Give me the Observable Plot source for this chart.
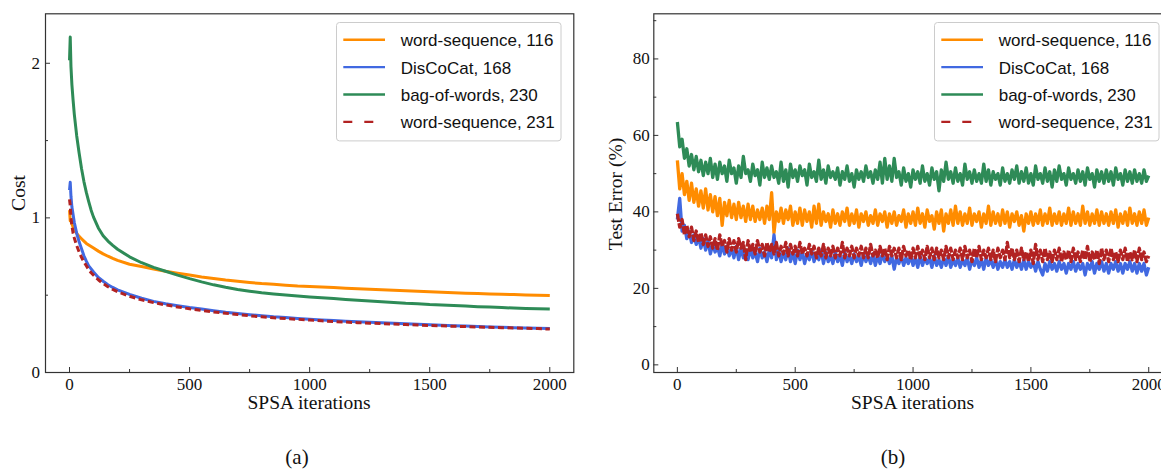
<!DOCTYPE html>
<html><head><meta charset="utf-8">
<script src="https://cdn.jsdelivr.net/npm/d3@7"></script>
<script src="https://cdn.jsdelivr.net/npm/@observablehq/plot@0.6"></script>
<style>
body{margin:0;background:#fff;overflow:hidden;}
#fig{position:relative;width:1161px;height:470px;overflow:hidden;background:#fff;}
.panel{position:absolute;top:0;}
.leg{position:absolute;}
.cap{position:absolute;width:100px;text-align:center;font-family:"Liberation Serif",serif;font-size:21px;line-height:21px;color:#111;}
</style></head><body><div id="fig"></div>
<script>
// ---- series meta ----
const seriesNames = ["word-sequence, 116", "DisCoCat, 168", "bag-of-words, 230", "word-sequence, 231"];
const seriesColors = ["#ff8c00", "#4169e1", "#2e8b57", "#b22222"];

// ---- ticks ----
const iterTicks = [0, 500, 1000, 1500, 2000];
const iterMinor = [250, 750, 1250, 1750];
const costTicks = [0, 1, 2];
const costMinor = [0.5, 1.5];
const errTicks = [0, 20, 40, 60, 80];
const errMinor = [10, 30, 50, 70, 90];

// ---- panel (a): cost ----
const costIter = [0,3,6,10,15,20,30,40,50,60,70,80,90,100,120,140,160,180,200,
  250,300,350,400,450,500,550,600,650,700,750,800,850,900,950,1000,1050,1100,1150,1200,1250,
  1300,1350,1400,1450,1500,1550,1600,1650,1700,1750,1800,1850,1900,1950,2000];
const costWordSeq116 = [1.05,0.98,0.99,0.96,0.94,0.925,0.90,0.88,0.865,0.85,0.835,0.825,0.815,0.805,0.785,0.767,0.752,0.738,0.725,
  0.70,0.685,0.67,0.655,0.642,0.63,0.618,0.608,0.598,0.59,0.582,0.575,0.57,0.565,0.56,0.557,0.553,0.549,0.545,0.541,0.538,
  0.535,0.532,0.528,0.525,0.522,0.519,0.516,0.513,0.511,0.508,0.506,0.504,0.502,0.50,0.498];
const costDisCoCat168 = [1.18,1.23,1.14,1.07,1.02,0.97,0.90,0.845,0.80,0.755,0.72,0.69,0.67,0.65,0.615,0.59,0.568,0.55,0.535,
  0.505,0.48,0.46,0.445,0.432,0.42,0.41,0.40,0.39,0.382,0.374,0.367,0.36,0.355,0.35,0.345,0.34,0.336,0.332,0.328,0.325,
  0.321,0.318,0.315,0.312,0.309,0.306,0.303,0.30,0.298,0.295,0.293,0.29,0.288,0.286,0.284];
const costBagOfWords230 = [2.02,2.17,1.98,1.86,1.76,1.67,1.53,1.42,1.32,1.235,1.165,1.105,1.05,1.005,0.935,0.885,0.85,0.822,0.797,
  0.748,0.71,0.68,0.655,0.63,0.607,0.586,0.567,0.551,0.537,0.526,0.516,0.508,0.501,0.495,0.489,0.483,0.478,0.472,0.467,0.463,
  0.458,0.453,0.448,0.445,0.44,0.437,0.433,0.43,0.426,0.423,0.42,0.417,0.414,0.412,0.41];
const costWordSeq231 = [1.12,1.08,1.0,0.95,0.90,0.87,0.82,0.78,0.745,0.715,0.69,0.665,0.645,0.63,0.60,0.575,0.555,0.537,0.522,
  0.493,0.47,0.452,0.437,0.424,0.412,0.402,0.392,0.383,0.375,0.367,0.36,0.354,0.349,0.344,0.339,0.334,0.33,0.326,0.322,0.319,
  0.316,0.313,0.31,0.307,0.304,0.302,0.299,0.297,0.294,0.292,0.29,0.288,0.286,0.284,0.281];

// ---- panel (b): test error, sampled every 10 iterations (0..2000) ----
const errStep = 10;
const errWordSeq116 = [
53.5,46,50,44.5,48,43,47.5,42.5,46,41.5,
45.5,41,46,40.5,44.5,40,44,39,43.5,36.5,
42.5,39,43,38.5,42,38,42.5,38.5,41.5,37.5,
42,38,41.5,37.5,40.5,38,41,37,41.5,38,
45,34.5,40,37.5,41,37,40.5,38,41.5,36.5,
40,37,41,36.5,40.5,37.5,40,36,41.5,37,
42,36.5,40,37.5,39.5,36,40.5,37,39.5,36.5,
40,37.5,41,36.5,39.5,37,40.5,36,39.5,37.5,
40,36.5,39,37,40.5,36.5,39.5,37.5,40,36,
39.5,37,40,36.5,39,37.5,40.5,36,39.5,37,
40,36.5,41,37,39.5,36,40.5,37.5,39,35.5,
40,37,40.5,35,39.5,37,40.5,36.5,41.5,37,
40,36.5,39.5,37,41,36.5,39.5,37.5,40,36,
39.5,37,41.5,36.5,40,37,39.5,36.5,40.5,37,
40,36,39.5,37.5,40,36.5,39,35,39.5,37,
40,36.5,39.5,37,40.5,36.5,39.5,37,41,36.5,
39.5,37,40,36.5,39.5,37,41,36.5,40,37,
39.5,36.5,41.5,37,40,36.5,39.5,37,40.5,36.5,
40,37,39.5,36.5,40,37,40.5,36,39.5,37,
40,36.5,41,37,39.5,36.5,40,37,40.5,36.5,
38.5];
const errDisCoCat168 = [
38,43.5,35,36.5,33,35,32,34,31.5,33.5,
30.5,33,30,32.5,29,31.5,29.5,31,28.5,31.5,
29,31,28.5,30.5,28,31,27.5,30.5,28,30,
27.5,30.5,28,29.5,27,30.5,28,29.5,27,30,
28,34,27.5,30,27,29.5,27.5,30.5,27,29.5,
26.5,30,27.5,29.5,26.5,29,27.5,30,27,29,
27.5,30,26.5,29.5,27,28.5,26.5,29.5,27,28.5,
26,29.5,27,28.5,26.5,29,27,28.5,26,29,
27,28.5,26.5,29,26,28.5,26.5,29,27,28.5,
26.5,28.5,25,28,26.5,28.5,26,28,26.5,28.5,
26,28,25.5,28.5,26,28,26.5,28,25.5,28.5,
26,27.5,25.5,28,26,28.5,25.5,27.5,26,28,
25.5,27.5,26,28,25,27.5,26,28,25.5,27.5,
25,28,26,27.5,25.5,27.5,25,27,25.5,27.5,
25.5,27,25,27.5,25.5,27,25,27.5,25,27,
25.5,27,24.5,27,25,23.5,26.5,24.5,27,25,
26.5,24.5,27,25,26.5,24,26.5,25,27,24.5,
26.5,25,26.5,23.5,26.5,25,27,24,26.5,25,
27,24.5,26.5,24,26.5,25,27,24.5,26.5,24,
26.5,25,27,24.5,26.5,24,26.5,24.5,26.5,23.5,
25.5];
const errBagOfWords230 = [
63.5,57,59,54,56.5,52,55,51,54.5,50.5,
53.5,49.5,53,50,54,49,52.5,48.5,53,50,
52,48,53.5,50,51.5,47.5,52,49,54.5,50,
51,48,52.5,49.5,51,47,53,49,51.5,48.5,
52,49,50.5,47.5,53,48,51,46.5,52.5,49,
51,48,52,49.5,51,47,52.5,49,50.5,48,
53.5,48.5,51,47.5,52,49,50.5,48.5,51.5,47,
50.5,48.5,52,48,50,46.5,51,48.5,50.5,48,
52,49,50.5,47.5,51,48.5,53,47.5,54,48.5,
52,48,54,49,50.5,47,51.5,48,50,46.5,
51,48.5,50.5,47.5,52,48,50,47,51.5,48.5,
50.5,45.5,51,48,53,48.5,50.5,47.5,51.5,48,
50,47,52.5,48.5,50.5,47.5,51,48,50,47.5,
52.5,48,51,47,50.5,48.5,50,47,51.5,48,
50,47.5,51,48.5,52,47.5,50.5,48,51.5,47.5,
50,47,52,48.5,50,47.5,51.5,48,50.5,46.5,
51,48,52,48.5,50,47,51.5,48.5,50,47.5,
51,48,50.5,47,51.5,48.5,50,46.5,51,48,
50.5,47.5,51,48,50.5,47,51.5,48.5,50,47,
51,48,50.5,47.5,51,48,50,47.5,51,48,
49.5];
const errWordSeq231 = [
39.5,36,38,34,36.5,33.5,36,32.5,35,32,
34.5,31.5,34,31,33.5,30.5,33,30,34,31,
32.5,29.5,33,30,32.5,29.5,33,30.5,32,27.5,
32.5,29.5,31.5,29,32.5,29.5,31.5,28.5,32,29.5,
31.5,29,32,28.5,31,29,32,28.5,31.5,29,
31,28.5,32,29,30.5,28.5,31.5,29,31,28,
30.5,28.5,31.5,28,30.5,28.5,31,28,30.5,28.5,
32,28,30.5,28.5,31,28,30.5,28.5,31,28,
30.5,28,31.5,28.5,30,28,31,28.5,30.5,27.5,
31,28.5,30.5,28,30.5,27.5,31,28.5,30,27.5,
30.5,28,31,28,30,27.5,31,28,30.5,27.5,
30.5,28,30,27.5,31,28,30.5,27.5,30,28,
30.5,27.5,31,28,30,27,30.5,28,31,27.5,
30,28,30.5,27.5,30,27,30.5,28,30,27.5,
32,28,30.5,27.5,30,27,30.5,27.5,29.5,27,
30,26.5,31.5,27.5,30,27,30.5,27.5,29.5,27,
30,27.5,30.5,27,29.5,27.5,30,27,30.5,27.5,
29.5,27,30,27.5,31,27,29.5,27.5,30,26.5,
30.5,27.5,30,27,30.5,27.5,29.5,27,30,27.5,
30.5,27,29.5,27.5,30,27,30.5,27.5,29.5,27,
28.5];

const costSeries = [costWordSeq116, costDisCoCat168, costBagOfWords230, costWordSeq231];
const errSeries = [errWordSeq116, errDisCoCat168, errBagOfWords230, errWordSeq231];
const errIter = errWordSeq116.map((_, i) => i * errStep);

const fig = document.getElementById("fig");
const SERIF = "'Liberation Serif', 'Times New Roman', serif";
const SANS = "'Liberation Sans', Arial, sans-serif";

function makePanel({left, width, marginLeft, marginRight, yDomain, yTicks, yMinor, xs, series, sw, dashes, yLabelPad}) {
  const marks = series.map((vals, k) => Plot.line(vals, {
    x: (d, i) => xs[i], y: d => d,
    stroke: seriesColors[k], strokeWidth: sw,
    strokeDasharray: dashes[k] || undefined,
    strokeLinecap: "butt"
  }));
  const axisStyle = {stroke: "#333", fill: "#111", label: null, strokeWidth: 1};
  marks.push(
    Plot.axisX({...axisStyle, ticks: iterTicks, tickSize: -5, tickPadding: 10, tickFormat: d => String(d)}),
    Plot.axisX({...axisStyle, ticks: iterMinor, tickSize: -3, tickPadding: 10, tickFormat: () => ""}),
    Plot.axisY({...axisStyle, ticks: yTicks, tickSize: -5, tickPadding: yLabelPad, tickFormat: d => String(d)}),
    Plot.axisY({...axisStyle, ticks: yMinor, tickSize: -3, tickPadding: yLabelPad, tickFormat: () => ""}),
    Plot.frame({stroke: "#333", strokeWidth: 1.2})
  );
  const svg = Plot.plot({
    width, height: 420,
    marginLeft, marginRight, marginTop: 13.3, marginBottom: 48,
    x: {domain: [-100, 2100]},
    y: {domain: yDomain},
    style: {fontFamily: SERIF, fontSize: "17px", background: "transparent", color: "#111", overflow: "visible"},
    marks
  });
  svg.classList.add("panel");
  svg.style.left = left + "px";
  fig.appendChild(svg);
  return svg;
}

function addLegend(left, top) {
  const w = 225.5, h = 119.4;
  const div = document.createElement("div");
  div.className = "leg";
  div.style.left = left + "px"; div.style.top = top + "px";
  fig.appendChild(div);
  const s = d3.select(div).append("svg").attr("width", w).attr("height", h);
  s.append("rect").attr("x", 0.5).attr("y", 0.5).attr("width", w - 1).attr("height", h - 1)
    .attr("rx", 3).attr("fill", "#fff").attr("fill-opacity", 0.8).attr("stroke", "#cccccc");
  const rowY = [17.7, 45.1, 72.5, 99.9];
  seriesNames.forEach((name, k) => {
    s.append("line").attr("x1", 7.3).attr("x2", 49).attr("y1", rowY[k]).attr("y2", rowY[k])
      .attr("stroke", seriesColors[k]).attr("stroke-width", 2.4)
      .attr("stroke-dasharray", k === 3 ? "9,12" : null);
    s.append("text").attr("x", 64.7).attr("y", rowY[k] + 6.5)
      .attr("font-family", SANS).attr("font-size", 17).attr("fill", "#111").text(name);
  });
}

function addTitle(svg, x, y, text, rotate) {
  const t = d3.select(svg).append("text")
    .attr("font-family", SERIF).attr("font-size", 19.5).attr("fill", "#111")
    .attr("text-anchor", "middle").text(text);
  if (rotate) t.attr("transform", `translate(${x},${y}) rotate(-90)`);
  else t.attr("x", x).attr("y", y);
}

// Panel (a)
const svgA = makePanel({left: 0, width: 580, marginLeft: 45, marginRight: 6.7,
  yDomain: [0, 2.32], yTicks: costTicks, yMinor: costMinor,
  xs: costIter, series: costSeries, sw: 3, dashes: [null, null, null, "6,3.5"], yLabelPad: 10.5});
addTitle(svgA, 309, 409, "SPSA iterations");
addTitle(svgA, 25, 193, "Cost", true);
addLegend(336, 22.3);

// Panel (b)
const svgB = makePanel({left: 590, width: 590, marginLeft: 63.3, marginRight: 8.2,
  yDomain: [-2, 91.8], yTicks: errTicks, yMinor: errMinor,
  xs: errIter, series: errSeries, sw: 3.3, dashes: [null, null, null, "8,1.5"], yLabelPad: 9});
addTitle(svgB, 322.5, 409, "SPSA iterations");
addTitle(svgB, 32, 194, "Test Error (%)", true);
addLegend(934.3, 22.3);

// Captions
[["(a)", 297], ["(b)", 893]].forEach(([t, cx]) => {
  const d = document.createElement("div");
  d.className = "cap"; d.textContent = t;
  d.style.left = (cx - 50) + "px"; d.style.top = "447px";
  fig.appendChild(d);
});
</script></body></html>
